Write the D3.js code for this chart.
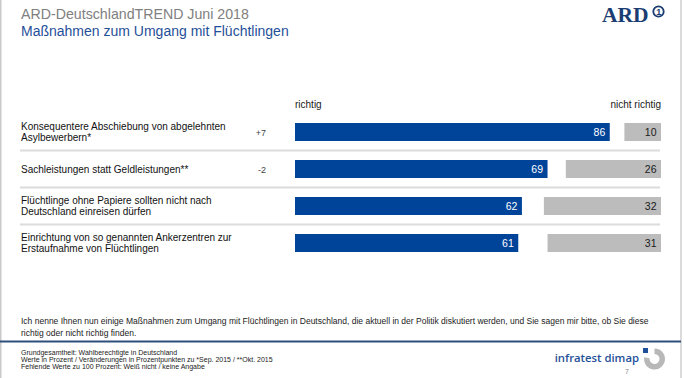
<!DOCTYPE html>
<html>
<head>
<meta charset="utf-8">
<script src="https://cdn.jsdelivr.net/npm/d3@7"></script>
<style>
  html, body { margin: 0; padding: 0; background: #fff; }
  svg { display: block; font-family: "Liberation Sans", Arial, sans-serif; }
</style>
</head>
<body>
<svg id="chart" width="684" height="378"></svg>
<script>
// ---- data ----
const categories = [
  "Konsequentere Abschiebung von abgelehnten|Asylbewerbern*",
  "Sachleistungen statt Geldleistungen**",
  "Flüchtlinge ohne Papiere sollten nicht nach|Deutschland einreisen dürfen",
  "Einrichtung von so genannten Ankerzentren zur|Erstaufnahme von Flüchtlingen"
];
const richtig = [86, 69, 62, 61];
const nichtRichtig = [10, 26, 32, 31];
const changes = ["+7", "-2", "", ""];
const seriesLabels = ["richtig", "nicht richtig"];
const title = "ARD-DeutschlandTREND Juni 2018";
const subtitle = "Maßnahmen zum Umgang mit Flüchtlingen";
const question = [
  "Ich nenne Ihnen nun einige Maßnahmen zum Umgang mit Flüchtlingen in Deutschland, die aktuell in der Politik diskutiert werden, und Sie sagen mir bitte, ob Sie diese",
  "richtig oder nicht richtig finden."
];
const notes = [
  "Grundgesamtheit: Wahlberechtigte in Deutschland",
  "Werte in Prozent / Veränderungen in Prozentpunkten zu *Sep. 2015 / **Okt. 2015",
  "Fehlende Werte zu 100 Prozent: Weiß nicht / keine Angabe"
];
const pageNumber = "7";

// ---- layout ----
const W = 684, H = 378;
const svg = d3.select("#chart");
const blue = "#00449a", grey = "#bcbcbc";

const x = d3.scaleLinear().domain([0, 100]).range([295, 661]);
const y = d3.scaleBand().domain(categories).range([113.5, 261.5])
  .paddingInner(19 / 37).paddingOuter(19 / 74);

// frame lines
svg.append("line").attr("x1", 0.75).attr("x2", 0.75).attr("y1", 0).attr("y2", H)
  .attr("stroke", "#c9c9c9").attr("stroke-width", 1.5);
svg.append("line").attr("x1", 681).attr("x2", 681).attr("y1", 0).attr("y2", H)
  .attr("stroke", "#cfcfcf").attr("stroke-width", 1.5);

// titles
svg.append("text").attr("x", 21).attr("y", 19).attr("font-size", 14.2)
  .attr("fill", "#808080").text(title);
svg.append("text").attr("x", 21).attr("y", 36).attr("font-size", 14)
  .attr("fill", "#1f4f98").text(subtitle);

// ARD logo
svg.append("text").attr("x", 602).attr("y", 21.5)
  .attr("font-family", "'Liberation Serif', 'DejaVu Serif', serif")
  .attr("font-weight", "bold").attr("font-size", 21.5).attr("fill", "#1b3d72").text("ARD");
svg.append("circle").attr("cx", 658.5).attr("cy", 11.5).attr("r", 5.2)
  .attr("fill", "#fff").attr("stroke", "#1b3d72").attr("stroke-width", 1.8);
svg.append("text").attr("x", 658.8).attr("y", 14.8).attr("text-anchor", "middle")
  .attr("font-size", 9).attr("font-weight", "bold").attr("fill", "#1b3d72").text("1");

// series headers
svg.append("text").attr("x", x(0)).attr("y", 107.5).attr("font-size", 10)
  .attr("fill", "#1a1a1a").text(seriesLabels[0]);
svg.append("text").attr("x", x(100)).attr("y", 107.5).attr("font-size", 10)
  .attr("text-anchor", "end").attr("fill", "#1a1a1a").text(seriesLabels[1]);

// separators between rows
const step = y.step(), bw = y.bandwidth();
svg.append("g").selectAll("line").data(categories.slice(0, -1)).join("line")
  .attr("x1", 20).attr("x2", 660)
  .attr("y1", d => y(d) + bw + (step - bw) / 2)
  .attr("y2", d => y(d) + bw + (step - bw) / 2)
  .attr("stroke", "#dcdcdc").attr("stroke-width", 2);

// row labels
const lab = svg.append("g").selectAll("text").data(categories).join("text")
  .attr("font-size", 10).attr("fill", "#111");
lab.each(function(d) {
  const lines = d.split("|");
  const cy = y(d) + bw / 2;
  const lh = 11.8;
  const t = d3.select(this);
  lines.forEach((ln, i) => {
    t.append("tspan").attr("x", 21)
      .attr("y", cy + (i - (lines.length - 1) / 2) * lh + 3.5).text(ln);
  });
});

// change column
svg.append("g").selectAll("text").data(categories).join("text")
  .attr("x", 266).attr("y", d => y(d) + bw / 2 + 3.5)
  .attr("text-anchor", "end").attr("font-size", 9).attr("fill", "#444")
  .text((d, i) => changes[i]);

// blue bars
svg.append("g").selectAll("rect").data(categories).join("rect")
  .attr("x", x(0)).attr("y", d => y(d))
  .attr("width", (d, i) => x(richtig[i]) - x(0)).attr("height", bw)
  .attr("fill", blue);
svg.append("g").selectAll("text").data(categories).join("text")
  .attr("x", (d, i) => x(richtig[i]) - 4.5).attr("y", d => y(d) + bw / 2 + 3.7)
  .attr("text-anchor", "end").attr("font-size", 10.5).attr("fill", "#fff")
  .text((d, i) => richtig[i]);

// grey bars (from the right)
svg.append("g").selectAll("rect").data(categories).join("rect")
  .attr("x", (d, i) => x(100 - nichtRichtig[i])).attr("y", d => y(d))
  .attr("width", (d, i) => x(100) - x(100 - nichtRichtig[i])).attr("height", bw)
  .attr("fill", grey);
svg.append("g").selectAll("text").data(categories).join("text")
  .attr("x", x(100) - 4.5).attr("y", d => y(d) + bw / 2 + 3.7)
  .attr("text-anchor", "end").attr("font-size", 10.5).attr("fill", "#1a1a1a")
  .text((d, i) => nichtRichtig[i]);

// question text
svg.append("g").selectAll("text").data(question).join("text")
  .attr("x", 21).attr("y", (d, i) => 324 + i * 11.5)
  .attr("font-size", 8.5).attr("fill", "#222").text(d => d);

// footer rule
svg.append("line").attr("x1", 0).attr("x2", 681).attr("y1", 341.5).attr("y2", 341.5)
  .attr("stroke", "#2f4e7c").attr("stroke-width", 2);

// notes
svg.append("g").selectAll("text").data(notes).join("text")
  .attr("x", 21).attr("y", (d, i) => 354.5 + i * 7.4)
  .attr("font-size", 7).attr("fill", "#222").text(d => d);

// infratest dimap logo
svg.append("text").attr("x", 639).attr("y", 361.5).attr("text-anchor", "end")
  .attr("font-family", "'Open Sans', 'Noto Sans', sans-serif").attr("font-weight", 600)
  .attr("font-size", 11.3).attr("fill", "#1f4f98").text("infratest dimap");
const arc = d3.arc().innerRadius(5).outerRadius(10.5)
  .startAngle(0).endAngle(Math.PI * 1.55);
svg.append("path").attr("d", arc()).attr("transform", "translate(654.5,359)")
  .attr("fill", "#b8b8b8");
svg.append("rect").attr("x", 643).attr("y", 348).attr("width", 5).attr("height", 5)
  .attr("fill", "#1f4f98");
svg.append("text").attr("x", 627).attr("y", 374).attr("text-anchor", "middle")
  .attr("font-size", 7).attr("fill", "#888").text(pageNumber);
</script>
</body>
</html>
